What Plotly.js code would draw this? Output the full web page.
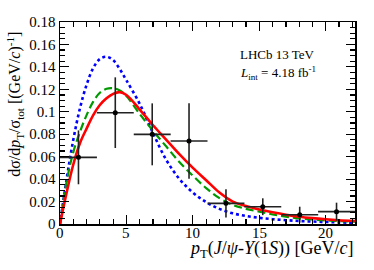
<!DOCTYPE html>
<html>
<head>
<meta charset="utf-8">
<script src="https://cdn.plot.ly/plotly-3.0.1.min.js"></script>
<style>html,body{margin:0;padding:0;background:#fff;}#chart{width:374px;height:270px;}</style>
</head>
<body>
<div id="chart"></div>
<script>
// Data points (bins in pT)
const ptCenter = [1.39, 4.16, 6.94, 9.71, 12.49, 15.26, 18.04, 20.81];
const ptHalfWidth = [1.39, 1.39, 1.39, 1.39, 1.39, 1.39, 1.39, 1.39];
const dSigma = [0.0594, 0.0992, 0.0799, 0.074, 0.0184, 0.0154, 0.0083, 0.011];
const dSigmaErr = [0.024, 0.0315, 0.0276, 0.0336, 0.0125, 0.0075, 0.0071, 0.008];

// Model curves
const curveX = [0, 0.5, 1, 1.5, 2, 2.5, 3, 3.5, 4, 4.5, 5, 6, 7, 8, 9, 10, 11, 12, 13, 14, 15, 16, 17, 18, 19, 20, 21, 22.2];
const blueDotted = [0, 0.040, 0.075, 0.103, 0.124, 0.139, 0.147, 0.149, 0.146, 0.138, 0.128, 0.107, 0.081, 0.057, 0.040, 0.028, 0.0195, 0.0135, 0.0095, 0.0072, 0.0055, 0.0043, 0.0034, 0.0027, 0.0022, 0.0018, 0.0014, 0.0011];
const greenDashed = [0, 0.038, 0.064, 0.082, 0.097, 0.109, 0.117, 0.1205, 0.121, 0.119, 0.114, 0.098, 0.083, 0.069, 0.055, 0.043, 0.032, 0.023, 0.017, 0.0135, 0.011, 0.0085, 0.0065, 0.005, 0.004, 0.0032, 0.0026, 0.002];
const redSolid = [0, 0.028, 0.053, 0.072, 0.085, 0.097, 0.106, 0.112, 0.116, 0.1175, 0.115, 0.102, 0.088, 0.075, 0.062, 0.050, 0.039, 0.028, 0.020, 0.016, 0.013, 0.0105, 0.0083, 0.0065, 0.0052, 0.0042, 0.0034, 0.0027];

// Tick labels
const yTickVals = [0, 0.02, 0.04, 0.06, 0.08, 0.1, 0.12, 0.14, 0.16, 0.18];
const yTickText = ['0', '0.02', '0.04', '0.06', '0.08', '0.1', '0.12', '0.14', '0.16', '0.18'];
const xTickVals = [0, 5, 10, 15, 20];
const xTickText = ['0', '5', '10', '15', '20'];

const serif = 'Liberation Serif, Times New Roman, serif';

const traces = [
  {x: curveX, y: blueDotted, mode: 'lines', line: {color: '#0000ff', width: 2.6, dash: 'dot', shape: 'spline'}, hoverinfo: 'skip'},
  {x: curveX, y: greenDashed, mode: 'lines', line: {color: '#009900', width: 2.2, dash: '8px,4px', shape: 'spline'}, hoverinfo: 'skip'},
  {x: curveX, y: redSolid, mode: 'lines', line: {color: '#ff0000', width: 2.6, shape: 'spline'}, hoverinfo: 'skip'},
  {x: ptCenter, y: dSigma, mode: 'markers',
   marker: {color: '#000', size: 5},
   error_x: {type: 'data', array: ptHalfWidth, color: '#222', thickness: 1.6, width: 0},
   error_y: {type: 'data', array: dSigmaErr, color: '#222', thickness: 1.6, width: 0}}
];

const xTickAnnotations = xTickVals.map((v, i) => ({
  xref: 'x', yref: 'paper', x: v, y: -0.045, xanchor: 'center', yanchor: 'middle', showarrow: false,
  borderpad: 0, text: xTickText[i], font: {family: serif, size: 15}
}));

const layout = {
  width: 374, height: 270,
  margin: {l: 60, r: 19, t: 22, b: 46},
  paper_bgcolor: '#fff', plot_bgcolor: '#fff',
  showlegend: false,
  font: {family: serif, size: 15, color: '#000'},
  xaxis: {
    range: [0, 22.2], showgrid: false, zeroline: false,
    showline: true, linecolor: '#000', linewidth: 1.5, mirror: 'ticks',
    ticks: 'inside', ticklen: 9, tickwidth: 1.2, tickcolor: '#000',
    tickvals: xTickVals, showticklabels: false,
    minor: {dtick: 1, ticks: 'inside', ticklen: 5, tickwidth: 1.2, tickcolor: '#000', showgrid: false}
  },
  yaxis: {
    range: [0, 0.18], showgrid: false, zeroline: false,
    showline: true, linecolor: '#000', linewidth: 1.5, mirror: 'ticks',
    ticks: 'inside', ticklen: 9, tickwidth: 1.2, tickcolor: '#000',
    tickvals: yTickVals, ticktext: yTickText,
    minor: {dtick: 0.005, ticks: 'inside', ticklen: 5, tickwidth: 1.2, tickcolor: '#000', showgrid: false},
    tickfont: {family: serif, size: 15}
  },
  annotations: xTickAnnotations.concat([
    {xref: 'paper', yref: 'paper', x: 0.997, y: -0.127, xanchor: 'right', yanchor: 'middle', showarrow: false,
     borderpad: 0, text: '<i>p</i><sub>T</sub>(<i>J</i>/<i>ψ</i>-<i>Υ</i>(1<i>S</i>)) [GeV/<i>c</i>]', font: {family: serif, size: 18}},
    {xref: 'paper', yref: 'paper', x: -0.155, y: 0.96, xanchor: 'center', yanchor: 'top', textangle: -90, showarrow: false,
     text: 'dσ/d<i>p</i><sub>T</sub>/σ<sub>tot</sub> [(GeV/<i>c</i>)<sup>-1</sup>]', font: {family: serif, size: 16}},
    {xref: 'paper', yref: 'paper', x: 0.605, y: 0.837, xanchor: 'left', yanchor: 'middle', showarrow: false,
     text: 'LHCb 13 TeV', font: {family: serif, size: 13}},
    {xref: 'paper', yref: 'paper', x: 0.605, y: 0.748, xanchor: 'left', yanchor: 'middle', showarrow: false,
     text: '<i>L</i><sub>int</sub> = 4.18 fb<sup>-1</sup>', font: {family: serif, size: 13}}
  ])
};

Plotly.newPlot('chart', traces, layout, {displayModeBar: false, staticPlot: true});
</script>
</body>
</html>
